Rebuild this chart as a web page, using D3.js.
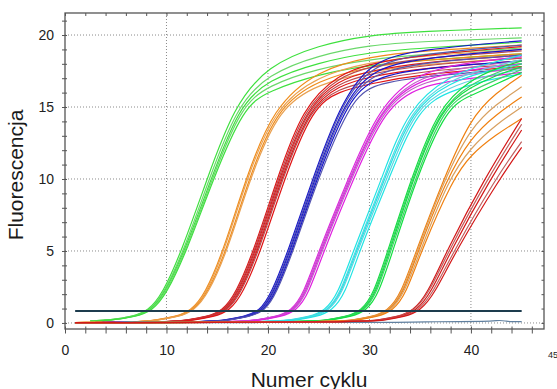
<!DOCTYPE html>
<html><head><meta charset="utf-8">
<script src="https://cdn.jsdelivr.net/npm/d3@7"></script>
<style>body{margin:0;background:#fff}svg{display:block}</style>
</head><body>
<svg id="c" width="557" height="389"></svg>
<script>
// ---- tick labels / axis values ----
const xTickLabels = [0, 10, 20, 30, 40];
const yTickLabels = [0, 5, 10, 15, 20];
const xMinorTicks = d3.range(0, 47, 2);
const yMinorTicks = d3.range(0, 22, 1);
const thresholdValue = 0.83;
const thresholdSpan = [1, 45];

// ---- amplification curves: [cycle, fluorescence] ----
const greenEarly = [
  [[2.5,0.14],[4.5,0.2],[6.5,0.42],[8.2,0.83],[9.6,2],[11.5,5],[14.0,10],[16.6,15],[20,17.9],[25,19.3],[30,20.0],[35,20.25],[45,20.5]],
  [[2.5,0.14],[4.5,0.2],[6.6,0.42],[8.3,0.83],[9.7,2],[11.7,5],[14.2,10],[16.9,15],[20,17.3],[25,18.6],[30,19.3],[35,19.55],[45,19.8]],
  [[2.5,0.13],[4.5,0.19],[6.7,0.42],[8.4,0.83],[9.8,2],[11.8,5],[14.4,10],[17.1,15],[20,16.9],[25,18.1],[30,18.8],[35,19.1],[45,19.5]],
  [[2.5,0.13],[4.5,0.19],[6.8,0.42],[8.5,0.83],[9.9,2],[11.9,5],[14.5,10],[17.3,15],[20,16.5],[25,17.7],[30,18.3],[35,18.65],[45,19.1]],
  [[2.5,0.12],[4.5,0.18],[6.9,0.42],[8.6,0.83],[10.0,2],[12.0,5],[14.6,10],[17.6,15],[20,16.1],[25,17.3],[30,17.9],[35,18.25],[45,18.7]]
];
const orangeEarly = [
  [[1,0.03],[7,0.06],[9,0.2],[10.8,0.42],[12.4,0.83],[13.8,2],[15.6,5],[17.8,10],[20.5,15],[25,17.6],[30,18.5],[35,18.9],[45,19.3]],
  [[1,0.03],[7.1,0.06],[9.1,0.2],[10.9,0.42],[12.5,0.83],[13.9,2],[15.7,5],[17.9,10],[20.7,15],[25,17.2],[30,18.1],[35,18.55],[45,19.0]],
  [[1,0.03],[7.2,0.06],[9.2,0.2],[11.0,0.42],[12.6,0.83],[14.0,2],[15.9,5],[18.1,10],[20.9,15],[25,16.9],[30,17.8],[35,18.25],[45,18.7]],
  [[1,0.03],[7.3,0.06],[9.3,0.2],[11.1,0.42],[12.7,0.83],[14.1,2],[16.0,5],[18.2,10],[21.1,15],[25,16.6],[30,17.5],[35,17.95],[45,18.4]]
];
const redMid = [
  [[1,0.02],[10,0.05],[12.1,0.2],[13.9,0.42],[15.5,0.83],[16.8,2],[18.6,5],[20.9,10],[23.4,15],[27,17.3],[30,18.0],[35,18.6],[45,19.2]],
  [[1,0.02],[10.1,0.05],[12.2,0.2],[14.0,0.42],[15.6,0.83],[16.9,2],[18.7,5],[21.0,10],[23.6,15],[27,17.1],[30,17.8],[35,18.4],[45,18.9]],
  [[1,0.02],[10.2,0.05],[12.3,0.2],[14.1,0.42],[15.7,0.83],[17.0,2],[18.8,5],[21.1,10],[23.8,15],[27,16.9],[30,17.5],[35,18.1],[45,18.6]],
  [[1,0.02],[10.3,0.05],[12.4,0.2],[14.2,0.42],[15.8,0.83],[17.1,2],[18.9,5],[21.2,10],[23.9,15],[27,16.7],[30,17.3],[35,17.9],[45,18.4]],
  [[1,0.02],[10.4,0.05],[12.5,0.2],[14.3,0.42],[15.9,0.83],[17.2,2],[19.0,5],[21.3,10],[24.1,15],[27,16.5],[30,17.1],[35,17.7],[45,18.2]],
  [[1,0.02],[10.5,0.05],[12.6,0.2],[14.4,0.42],[16.0,0.83],[17.3,2],[19.1,5],[21.4,10],[24.2,15],[27,16.3],[30,16.8],[35,17.5],[45,18.0]],
  [[1,0.02],[10.7,0.05],[12.8,0.2],[14.6,0.42],[16.2,0.83],[17.5,2],[19.3,5],[21.6,10],[24.4,15],[27,16.1],[30,16.6],[35,17.3],[45,17.8]]
];
const blueMid = [
  [[1,0.02],[13.7,0.05],[15.8,0.2],[17.6,0.42],[19.2,0.83],[20.3,2],[22.0,5],[24.4,10],[27.0,15],[30,18.2],[35,19.0],[45,19.6]],
  [[1,0.02],[13.8,0.05],[15.9,0.2],[17.7,0.42],[19.3,0.83],[20.4,2],[22.1,5],[24.5,10],[27.1,15],[30,17.9],[35,18.7],[45,19.3]],
  [[1,0.02],[13.9,0.05],[16.0,0.2],[17.8,0.42],[19.4,0.83],[20.5,2],[22.2,5],[24.6,10],[27.3,15],[30,17.6],[35,18.4],[45,19.0]],
  [[1,0.02],[14.0,0.05],[16.1,0.2],[17.9,0.42],[19.5,0.83],[20.6,2],[22.3,5],[24.7,10],[27.4,15],[30,17.3],[35,18.1],[45,18.6]],
  [[1,0.02],[14.1,0.05],[16.2,0.2],[18.0,0.42],[19.6,0.83],[20.7,2],[22.4,5],[24.8,10],[27.6,15],[30,17.0],[35,17.7],[45,18.2]],
  [[1,0.02],[14.2,0.05],[16.3,0.2],[18.1,0.42],[19.7,0.83],[20.8,2],[22.5,5],[24.9,10],[27.9,15],[30,16.6],[35,17.1],[45,17.7]]
];
const magentaMid = [
  [[1,0.02],[16.8,0.05],[18.9,0.2],[20.7,0.42],[22.3,0.83],[23.5,2],[25.0,5],[27.9,10],[30.9,15],[35,17.5],[40,18.1],[45,18.5]],
  [[1,0.02],[16.9,0.05],[19.0,0.2],[20.8,0.42],[22.4,0.83],[23.6,2],[25.1,5],[28.0,10],[31.1,15],[35,17.2],[40,17.8],[45,18.2]],
  [[1,0.02],[17.0,0.05],[19.1,0.2],[20.9,0.42],[22.5,0.83],[23.7,2],[25.2,5],[28.1,10],[31.2,15],[35,17.0],[40,17.6],[45,18.0]],
  [[1,0.02],[17.1,0.05],[19.2,0.2],[21.0,0.42],[22.6,0.83],[23.8,2],[25.3,5],[28.2,10],[31.4,15],[35,16.8],[40,17.3],[45,17.7]],
  [[1,0.02],[17.3,0.05],[19.4,0.2],[21.2,0.42],[22.8,0.83],[24.0,2],[25.5,5],[28.4,10],[31.6,15],[35,16.5],[40,17.0],[45,17.4]]
];
const cyanMid = [
  [[1,0.02],[20.1,0.05],[22.2,0.2],[24.0,0.42],[25.6,0.83],[26.9,2],[28.4,5],[31.2,10],[33.8,15],[38,17.2],[41,17.9],[45,18.6]],
  [[1,0.02],[20.3,0.05],[22.4,0.2],[24.2,0.42],[25.8,0.83],[27.1,2],[28.6,5],[31.4,10],[34.1,15],[38,16.9],[41,17.6],[45,18.3]],
  [[1,0.02],[20.4,0.05],[22.5,0.2],[24.3,0.42],[25.9,0.83],[27.2,2],[28.7,5],[31.5,10],[34.3,15],[38,16.7],[41,17.4],[45,18.0]],
  [[1,0.02],[20.5,0.05],[22.6,0.2],[24.4,0.42],[26.0,0.83],[27.3,2],[28.8,5],[31.7,10],[34.5,15],[38,16.4],[41,17.1],[45,17.6]],
  [[1,0.02],[20.8,0.05],[22.9,0.2],[24.7,0.42],[26.3,0.83],[27.6,2],[29.0,5],[31.9,10],[34.8,15],[38,16.1],[41,16.8],[45,17.3]]
];
const greenLate = [
  [[1,0.02],[23.7,0.05],[25.8,0.2],[27.6,0.42],[29.2,0.83],[30.4,2],[31.8,5],[34.1,10],[36.8,15],[40,16.9],[42.5,17.7],[45,18.2]],
  [[1,0.02],[23.8,0.05],[25.9,0.2],[27.7,0.42],[29.3,0.83],[30.5,2],[31.9,5],[34.2,10],[37.0,15],[40,16.6],[42.5,17.4],[45,18.0]],
  [[1,0.02],[23.9,0.05],[26.0,0.2],[27.8,0.42],[29.4,0.83],[30.6,2],[32.0,5],[34.3,10],[37.1,15],[40,16.4],[42.5,17.2],[45,17.8]],
  [[1,0.02],[24.0,0.05],[26.1,0.2],[27.9,0.42],[29.5,0.83],[30.7,2],[32.1,5],[34.5,10],[37.3,15],[40,16.1],[42.5,16.9],[45,17.6]],
  [[1,0.02],[24.2,0.05],[26.3,0.2],[28.1,0.42],[29.7,0.83],[30.9,2],[32.3,5],[34.6,10],[37.6,15],[40,15.8],[42.5,16.6],[45,17.4]]
];
const orangeLate = [
  [[1,0.02],[26.3,0.05],[28.4,0.2],[30.2,0.42],[31.8,0.83],[33.1,2],[34.6,5],[37.3,10],[40,14.3],[42.5,16.0],[45,17.2]],
  [[1,0.02],[26.4,0.05],[28.5,0.2],[30.3,0.42],[31.9,0.83],[33.2,2],[34.7,5],[37.4,10],[40,13.6],[42.5,15.2],[45,16.4]],
  [[1,0.02],[26.5,0.05],[28.6,0.2],[30.4,0.42],[32.0,0.83],[33.3,2],[34.8,5],[37.6,10],[40,12.9],[42.5,14.5],[45,15.7]],
  [[1,0.02],[26.6,0.05],[28.7,0.2],[30.5,0.42],[32.1,0.83],[33.4,2],[35.0,5],[37.8,10],[40,12.2],[42.5,13.8],[45,15.0]],
  [[1,0.02],[26.8,0.05],[28.9,0.2],[30.7,0.42],[32.3,0.83],[33.6,2],[35.1,5],[38.2,10],[40,11.7],[42.5,13.1],[45,14.2]]
];
const redLate = [
  [[1,0.02],[28.8,0.05],[30.9,0.2],[32.7,0.42],[34.3,0.83],[35.7,2],[37.6,5],[41.3,10],[45,14.2]],
  [[1,0.02],[28.9,0.05],[31.0,0.2],[32.8,0.42],[34.4,0.83],[35.8,2],[37.8,5],[41.6,10],[45,13.8]],
  [[1,0.02],[29.1,0.05],[31.2,0.2],[33.0,0.42],[34.6,0.83],[36.0,2],[38.0,5],[41.9,10],[45,13.4]],
  [[1,0.02],[29.3,0.05],[31.4,0.2],[33.2,0.42],[34.8,0.83],[36.2,2],[38.3,5],[42.4,10],[45,12.6]],
  [[1,0.02],[29.5,0.05],[31.6,0.2],[33.4,0.42],[35.0,0.83],[36.4,2],[38.5,5],[42.8,10],[45,12.2]]
];
const baselineNTC = [[1,0.02],[20,0.03],[35,0.04],[35.6,0.09],[42,0.1],[42.8,0.2],[43.5,0.12],[44,0.09],[45,0.09]];

const groups = [
  {curves: greenEarly,  colors: ["#3ee03e", "#6ad86a"]},
  {curves: orangeEarly, colors: ["#f08c1a", "#e9a050"]},
  {curves: redMid,      colors: ["#e01515", "#b84a4e"]},
  {curves: blueMid,     colors: ["#1515cc", "#5555b0"]},
  {curves: magentaMid,  colors: ["#e020e0", "#c060c8"]},
  {curves: cyanMid,     colors: ["#20e4e4", "#60d4e0"]},
  {curves: greenLate,   colors: ["#12e040", "#40d068"]},
  {curves: orangeLate,  colors: ["#f08010", "#d8a060"]},
  {curves: redLate,     colors: ["#d41818", "#c06060"]}
];

// ---- drawing ----
const svg = d3.select("#c");
const x = d3.scaleLinear().domain([0, 47.2]).range([65, 544]);
const y = d3.scaleLinear().domain([-0.42, 21.53]).range([329, 13]);
const L = 65, R = 544, T = 13, B = 329;

// grid (dotted)
const grid = svg.append("g").attr("stroke", "#8a8a8a").attr("stroke-width", 1).attr("stroke-dasharray", "1,2");
grid.selectAll(".gx").data(xTickLabels.filter(d => d > 0)).join("line")
  .attr("x1", d => x(d)).attr("x2", d => x(d)).attr("y1", T).attr("y2", B);
grid.selectAll(".gy").data(yTickLabels).join("line")
  .attr("x1", L).attr("x2", R).attr("y1", d => y(d)).attr("y2", d => y(d));

// curves (B-spline through the read points for rounded shoulders)
const line = d3.line().x(d => x(d[0])).y(d => y(d[1])).curve(d3.curveBasis);
const cg = svg.append("g").attr("fill", "none").attr("stroke-width", 1.2);
cg.append("path").datum(baselineNTC).attr("d", line).attr("stroke", "#6080a0");
groups.forEach(g => {
  cg.selectAll(null).data(g.curves).join("path")
    .attr("d", line)
    .attr("stroke", (d, i) => g.colors[i % 2]);
});

// threshold
svg.append("line")
  .attr("x1", x(thresholdSpan[0])).attr("x2", x(thresholdSpan[1]))
  .attr("y1", y(thresholdValue)).attr("y2", y(thresholdValue))
  .attr("stroke", "#1d3c4e").attr("stroke-width", 2);

// frame
svg.append("rect").attr("x", L).attr("y", T).attr("width", R - L).attr("height", B - T)
  .attr("fill", "none").attr("stroke", "#555").attr("stroke-width", 1.3);

// minor ticks via axes
function tickAxis(axis, tx, ty) {
  const g = svg.append("g").attr("transform", `translate(${tx},${ty})`).call(axis);
  g.select(".domain").remove();
  g.selectAll("line").attr("stroke", "#555");
  g.selectAll("text").remove();
  return g;
}
tickAxis(d3.axisBottom(x).tickValues(xMinorTicks).tickSize(4.5), 0, B);
tickAxis(d3.axisTop(x).tickValues(xMinorTicks).tickSize(2.5), 0, B);
tickAxis(d3.axisBottom(x).tickValues(xMinorTicks).tickSize(3), 0, T);
tickAxis(d3.axisLeft(y).tickValues(yMinorTicks).tickSize(3), L, 0);
tickAxis(d3.axisRight(y).tickValues(yMinorTicks).tickSize(2), L, 0);
tickAxis(d3.axisLeft(y).tickValues(yMinorTicks).tickSize(2.5), R, 0);

// tick labels
const lblFont = "'Liberation Sans Narrow','Arial Narrow','Liberation Sans',sans-serif";
const xl = svg.append("g").attr("transform", `translate(0,${B})`)
  .call(d3.axisBottom(x).tickValues(xTickLabels).tickSize(0).tickPadding(16.5).tickFormat(d3.format("d")));
xl.select(".domain").remove();
xl.selectAll("text").attr("font-family", lblFont).attr("font-size", 14).attr("fill", "#222");
const yl = svg.append("g").attr("transform", `translate(${L},0)`)
  .call(d3.axisLeft(y).tickValues(yTickLabels).tickSize(0).tickPadding(11).tickFormat(d3.format("d")));
yl.select(".domain").remove();
yl.selectAll("text").attr("font-family", lblFont).attr("font-size", 14).attr("fill", "#222");

svg.append("text").attr("x", 548).attr("y", 358).attr("font-family", lblFont)
  .attr("font-size", 9).attr("fill", "#222").text("45");

// axis titles
svg.append("text").attr("transform", "translate(23,175) rotate(-90)")
  .attr("text-anchor", "middle").attr("font-family", "'Liberation Sans',Arial,sans-serif")
  .attr("font-size", 21).attr("fill", "#1a1a1a").text("Fluorescencja");
svg.append("text").attr("x", 309).attr("y", 386.5)
  .attr("text-anchor", "middle").attr("font-family", "'Liberation Sans',Arial,sans-serif")
  .attr("font-size", 21).attr("fill", "#1a1a1a").text("Numer cyklu");
</script>
</body></html>
